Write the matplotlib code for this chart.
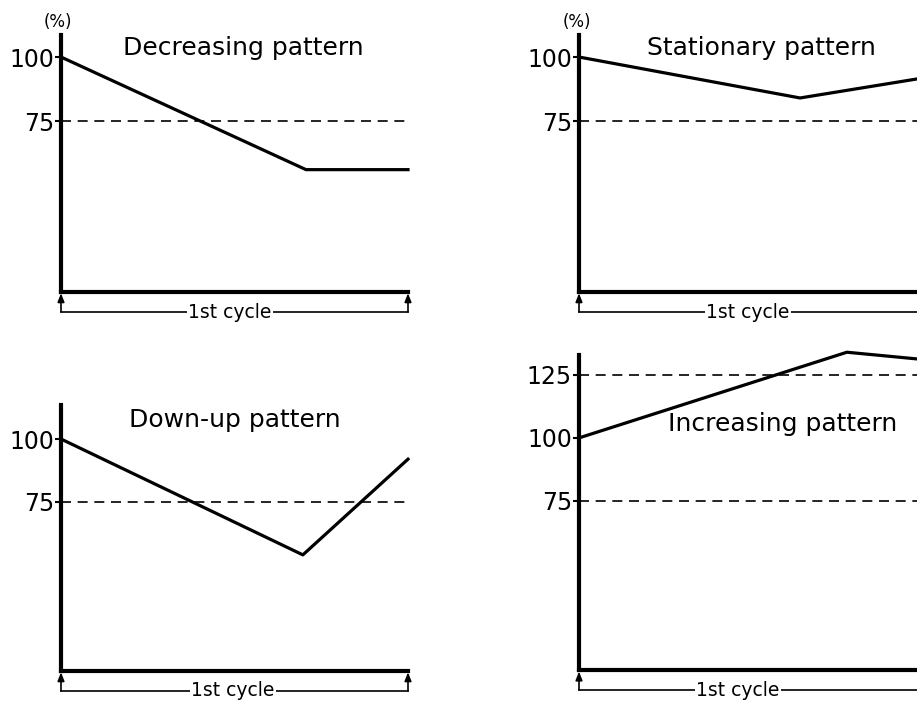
import matplotlib.pyplot as plt
import numpy as np

# --- data (x = fraction of the 1st cycle, y = %) ---
dec_x = [0, 0.706, 1.0]
dec_y = [100, 56, 56]
sta_x = [0, 0.637, 1.0]
sta_y = [100, 84, 92]
dup_x = [0, 0.697, 1.0]
dup_y = [100, 54, 92]
inc_x = [0, 0.772, 1.0]
inc_y = [100, 134, 131]

W, H = 917, 702
fig = plt.figure(figsize=(W / 100, H / 100), dpi=100)
plt.rcParams['font.family'] = 'DejaVu Sans'


def make_axes(left, top, bottom, width=347):
    ax = fig.add_axes([left / W, 1 - bottom / H, width / W, (bottom - top) / H])
    ax.hpx = bottom - top
    return ax


def setup(ax, ylim, ticks, dashed):
    ax.set_xlim(0, 1)
    ax.set_ylim(*ylim)
    for s in ['top', 'right']:
        ax.spines[s].set_visible(False)
    ax.spines['left'].set_linewidth(3)
    ax.spines['bottom'].set_linewidth(3)
    ax.set_xticks([])
    ax.set_yticks(ticks)
    ax.set_yticklabels([str(t) for t in ticks])
    ax.tick_params(axis='y', length=4, width=1.5, pad=1, labelsize=17)
    for d in dashed:
        ax.axhline(d, color='black', lw=1.2, ls=(0, (6, 4)), clip_on=False)
    # 1st cycle bracket, 20 px under the x axis
    yb = -20 / ax.hpx
    ax.plot([0, 1], [yb, yb], color='black', lw=1.2, transform=ax.transAxes, clip_on=False)
    for xe in [0, 1]:
        ax.annotate('', xy=(xe, -0.005), xytext=(xe, yb), xycoords='axes fraction',
                    arrowprops=dict(arrowstyle='-|>,head_length=0.5,head_width=0.2',
                                    color='black', lw=1.2, shrinkA=0, shrinkB=0))


def cycle_label(ax, x):
    ax.text(x, -20 / ax.hpx, '1st cycle', transform=ax.transAxes, ha='center', va='center',
            fontsize=13.5, bbox=dict(facecolor='white', edgecolor='none', pad=1))


# Decreasing pattern
ax1 = make_axes(61, 35, 292)
setup(ax1, (8.2, 108.6), [75, 100], [75])
ax1.plot(dec_x, dec_y, color='black', lw=2.3, clip_on=False)
ax1.text(0.525, 0.95, 'Decreasing pattern', transform=ax1.transAxes, ha='center', va='center', fontsize=18)
ax1.text(-0.01, 1.05, '(%)', transform=ax1.transAxes, ha='center', va='center', fontsize=12)
cycle_label(ax1, 0.487)

# Stationary pattern
ax2 = make_axes(579, 35, 292)
setup(ax2, (8.2, 108.6), [75, 100], [75])
ax2.plot(sta_x, sta_y, color='black', lw=2.3, clip_on=False)
ax2.text(0.527, 0.95, 'Stationary pattern', transform=ax2.transAxes, ha='center', va='center', fontsize=18)
ax2.text(-0.005, 1.05, '(%)', transform=ax2.transAxes, ha='center', va='center', fontsize=12)
cycle_label(ax2, 0.487)

# Down-up pattern
ax3 = make_axes(61, 405, 671)
setup(ax3, (7.9, 113.5), [75, 100], [75])
ax3.plot(dup_x, dup_y, color='black', lw=2.3, clip_on=False)
ax3.text(0.50, 0.945, 'Down-up pattern', transform=ax3.transAxes, ha='center', va='center', fontsize=18)
cycle_label(ax3, 0.496)

# Increasing pattern
ax4 = make_axes(579, 355, 670)
setup(ax4, (7.9, 132.9), [75, 100, 125], [75, 125])
ax4.plot(inc_x, inc_y, color='black', lw=2.3, clip_on=False)
ax4.text(0.588, 0.78, 'Increasing pattern', transform=ax4.transAxes, ha='center', va='center', fontsize=18)
cycle_label(ax4, 0.458)

fig.savefig('out.png', dpi=100)
